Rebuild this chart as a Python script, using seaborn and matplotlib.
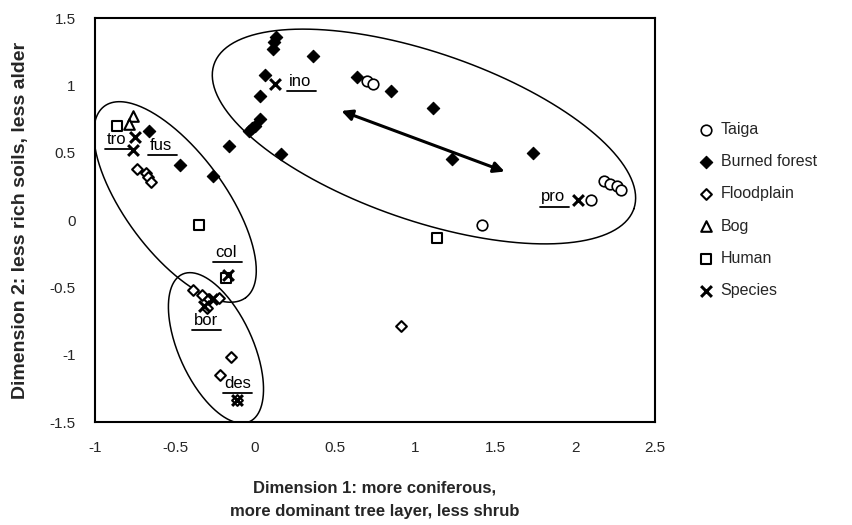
import numpy as np
import matplotlib.pyplot as plt
import seaborn as sns

sns.set_theme(style="white")
plt.rcParams['font.family'] = ['Liberation Sans', 'DejaVu Sans']

# DATA

taiga_x = [0.70, 0.74, 1.42, 2.10, 2.18, 2.22, 2.26, 2.29]
taiga_y = [1.03, 1.01, -0.04, 0.15, 0.29, 0.27, 0.25, 0.22]

burned_x = [0.13, 0.12, 0.11, 0.36, 0.06, 0.03, 0.03, 0.00, -0.02, -0.04, -0.16,
            0.16, 0.64, 0.85, 1.11, 1.23, 1.74, -0.66, -0.47, -0.26]
burned_y = [1.36, 1.32, 1.27, 1.22, 1.08, 0.92, 0.75, 0.70, 0.68, 0.66, 0.55,
            0.49, 1.06, 0.96, 0.83, 0.45, 0.50, 0.66, 0.41, 0.33]

flood_x = [-0.74, -0.68, -0.67, -0.65, -0.385, -0.333, -0.286, -0.223, -0.298,
           -0.15, -0.22, -0.11, 0.91]
flood_y = [0.38, 0.35, 0.32, 0.28, -0.52, -0.56, -0.59, -0.58, -0.65,
           -1.02, -1.15, -1.34, -0.79]

bog_x = [-0.76, -0.79]
bog_y = [0.77, 0.71]

human_x = [-0.86, -0.35, -0.18, 1.14]
human_y = [0.70, -0.04, -0.43, -0.13]

species_x = [0.125, -0.75, -0.76, -0.17, -0.32, -0.27, -0.11, 2.02]
species_y = [1.01, 0.62, 0.52, -0.41, -0.64, -0.59, -1.34, 0.15]

# underlined species labels (left edge, baseline)
label_names = ['ino', 'tro', 'fus', 'col', 'bor', 'des', 'pro']
label_x = [0.21, -0.925, -0.656, -0.25, -0.381, -0.19, 1.79]
label_y = [0.995, 0.564, 0.52, -0.272, -0.78, -1.247, 0.14]

xticks = [-1, -0.5, 0, 0.5, 1, 1.5, 2, 2.5]
xtick_labels = ['-1', '-0.5', '0', '0.5', '1', '1.5', '2', '2.5']
yticks = [-1.5, -1, -0.5, 0, 0.5, 1, 1.5]
ytick_labels = ['-1.5', '-1', '-0.5', '0', '0.5', '1', '1.5']

# arrow ends
arrow_start = (0.54, 0.81)
arrow_end = (1.56, 0.36)

# ellipses: center (data), semi-axes (px), angle (deg)
ellipses = [
    (1.056, 0.62, 222, 84, -19.0),
    (-0.50, 0.134, 119, 50, -53.6),
    (-0.244, -0.95, 81, 37, -65.5),
]

# PLOT

W, H = 852, 525
L, R, T, B = 95, 655, 18, 422
fig, ax = plt.subplots(figsize=(W / 100, H / 100), dpi=100)
fig.subplots_adjust(left=L / W, right=R / W, top=1 - T / H, bottom=1 - B / H)

sx = (R - L) / 3.5
sy = (B - T) / 3.0

for cx, cy, a, b, ang in ellipses:
    t = np.linspace(0, 2 * np.pi, 300)
    th = np.radians(ang)
    dx = a * np.cos(t) * np.cos(th) - b * np.sin(t) * np.sin(th)
    dy = a * np.cos(t) * np.sin(th) + b * np.sin(t) * np.cos(th)
    ax.plot(cx + dx / sx, cy + dy / sy, color='black', lw=1.1, zorder=1)

ax.annotate('', xy=arrow_end, xytext=arrow_start,
            arrowprops=dict(arrowstyle='<|-|>', color='black', lw=2.2,
                            mutation_scale=16, shrinkA=0, shrinkB=0))

sns.scatterplot(x=taiga_x, y=taiga_y, marker='o', s=58, color='white',
                edgecolor='black', linewidth=1.2, label='Taiga', ax=ax, zorder=3)
sns.scatterplot(x=burned_x, y=burned_y, marker='D', s=40, color='black',
                edgecolor='black', linewidth=0.8, label='Burned forest', ax=ax, zorder=3)
sns.scatterplot(x=flood_x, y=flood_y, marker='D', s=30, color='white',
                edgecolor='black', linewidth=1.5, label='Floodplain', ax=ax, zorder=3)
sns.scatterplot(x=bog_x, y=bog_y, marker='^', s=58, color='white',
                edgecolor='black', linewidth=1.5, label='Bog', ax=ax, zorder=3)
sns.scatterplot(x=human_x, y=human_y, marker='s', s=45, color='white',
                edgecolor='black', linewidth=1.5, label='Human', ax=ax, zorder=3)
sns.scatterplot(x=species_x, y=species_y, marker='x', s=60, color='black',
                linewidth=2.2, label='Species', ax=ax, zorder=4)

for name, lx, ly in zip(label_names, label_x, label_y):
    ax.text(lx, ly, name, fontsize=12, ha='left', va='baseline', color='black', zorder=5)
    ax.plot([lx - 0.01, lx + 0.17], [ly - 0.04, ly - 0.04], color='black', lw=1.3, zorder=5)

ax.set_xlim(-1, 2.5)
ax.set_ylim(-1.5, 1.5)
ax.set_xticks(xticks)
ax.set_xticklabels(xtick_labels, fontsize=11)
ax.set_yticks(yticks)
ax.set_yticklabels(ytick_labels, fontsize=11)
ax.tick_params(length=0, pad=14)
for sp in ax.spines.values():
    sp.set_color('black')
    sp.set_linewidth(1.5)

ax.set_xlabel('Dimension 1: more coniferous,\nmore dominant tree layer, less shrub',
              fontsize=12, fontweight='bold', labelpad=18, linespacing=1.75)
ax.set_ylabel('Dimension 2: less rich soils, less alder',
              fontsize=14, fontweight='bold', labelpad=15)

leg = ax.legend(loc='center left', bbox_to_anchor=((700 - L) / (R - L), (B - 210) / (B - T)),
                frameon=False, fontsize=11.5, borderaxespad=0, borderpad=0,
                handlelength=0.8, handletextpad=0.5, labelspacing=1.08)

plt.savefig('out.png', dpi=100)
